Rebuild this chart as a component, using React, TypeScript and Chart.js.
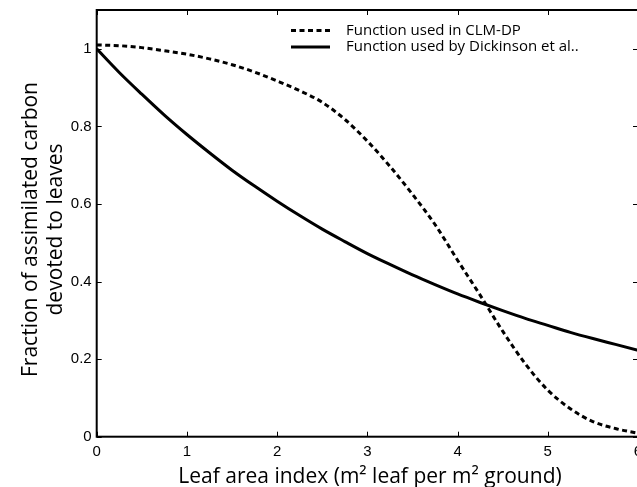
import React, { useEffect, useRef } from "react";
import { Chart, registerables } from "chart.js";

Chart.register(...registerables);

const LAI = [0, 0.25, 0.5, 0.75, 1, 1.25, 1.5, 1.75, 2, 2.25, 2.5, 2.75, 3, 3.25, 3.5, 3.75, 4, 4.25, 4.5, 4.75, 5, 5.25, 5.5, 5.75, 6];
const CLM_DP = [1.01, 1.008, 1.003, 0.995, 0.986, 0.974, 0.959, 0.94, 0.917, 0.892, 0.862, 0.818, 0.762, 0.697, 0.625, 0.547, 0.455, 0.365, 0.272, 0.188, 0.12, 0.072, 0.039, 0.021, 0.009];
const DICKINSON = [1.0, 0.939, 0.883, 0.829, 0.779, 0.732, 0.687, 0.646, 0.607, 0.57, 0.535, 0.503, 0.472, 0.444, 0.417, 0.392, 0.368, 0.346, 0.325, 0.305, 0.287, 0.269, 0.253, 0.238, 0.223];
const SERIES_LABELS = ["Function used in CLM-DP", "Function used by Dickinson et al.."];
const X_TICKS = [0, 1, 2, 3, 4, 5, 6];
const X_TICK_LABELS = ["0", "1", "2", "3", "4", "5", "6"];
const Y_TICKS = [0, 0.2, 0.4, 0.6, 0.8, 1];
const Y_TICK_LABELS = ["0", "0.2", "0.4", "0.6", "0.8", "1"];
const X_TITLE = "Leaf area index (m² leaf per m² ground)";
const Y_TITLE = ["Fraction of assimilated carbon", "devoted to leaves"];

const DASH = [5, 3.5];
const TITLE_FONT = "21px 'Open Sans'";

const framePlugin = {
  id: "frame",
  afterDatasetsDraw(chart: any) {
    const ctx = chart.ctx;
    const { left, right, top, bottom } = chart.chartArea;
    const xs = chart.scales.x;
    const ys = chart.scales.y;
    ctx.save();
    ctx.strokeStyle = "#000";
    // inward ticks on all four sides
    ctx.lineWidth = 1;
    const tl = 5;
    ctx.beginPath();
    X_TICKS.forEach((v) => {
      const px = Math.round(xs.getPixelForValue(v)) + 0.5;
      ctx.moveTo(px, bottom);
      ctx.lineTo(px, bottom - tl);
      ctx.moveTo(px, top);
      ctx.lineTo(px, top + tl);
    });
    Y_TICKS.forEach((v) => {
      const py = Math.round(ys.getPixelForValue(v)) + 0.5;
      ctx.moveTo(left, py);
      ctx.lineTo(left + tl, py);
      ctx.moveTo(right, py);
      ctx.lineTo(right - tl, py);
    });
    ctx.stroke();
    // box
    ctx.lineWidth = 2;
    ctx.strokeRect(left, top, right - left, bottom - top);

    // legend
    const items = chart.data.datasets;
    const lx0 = 291;
    const lx1 = 330;
    const tx = 346;
    const ly = [30.5, 47];
    ctx.font = "15px 'Open Sans'";
    ctx.textBaseline = "middle";
    ctx.textAlign = "left";
    ctx.fillStyle = "#000";
    items.forEach((ds: any, i: number) => {
      ctx.lineWidth = 3;
      ctx.setLineDash(ds.borderDash || []);
      ctx.beginPath();
      ctx.moveTo(lx0, ly[i]);
      ctx.lineTo(lx1, ly[i]);
      ctx.stroke();
      ctx.setLineDash([]);
      ctx.fillText(ds.label, tx, ly[i]);
    });

    // axis titles
    ctx.font = TITLE_FONT;
    ctx.textAlign = "center";
    ctx.textBaseline = "alphabetic";
    ctx.fillText(X_TITLE, 370, 483);
    ctx.save();
    ctx.translate(0, 229.5);
    ctx.rotate(-Math.PI / 2);
    ctx.fillText(Y_TITLE[0], 0, 36.5);
    ctx.fillText(Y_TITLE[1], 0, 61.5);
    ctx.restore();
    ctx.restore();
  },
};

export default function App() {
  const ref = useRef<HTMLCanvasElement | null>(null);
  useEffect(() => {
    if (!ref.current) return;
    const chart = new Chart(ref.current, {
      type: "line",
      data: {
        datasets: [
          {
            label: SERIES_LABELS[0],
            data: LAI.map((x, i) => ({ x, y: CLM_DP[i] })),
            borderColor: "#000",
            borderWidth: 3,
            borderDash: DASH,
            pointRadius: 0,
            cubicInterpolationMode: "monotone",
            fill: false,
          },
          {
            label: SERIES_LABELS[1],
            data: LAI.map((x, i) => ({ x, y: DICKINSON[i] })),
            borderColor: "#000",
            borderWidth: 3,
            pointRadius: 0,
            cubicInterpolationMode: "monotone",
            fill: false,
          },
        ],
      },
      options: {
        responsive: false,
        animation: false,
        devicePixelRatio: 1,
        layout: { autoPadding: false, padding: { top: 10, right: 8, left: 0, bottom: 0 } },
        plugins: { legend: { display: false }, tooltip: { enabled: false } },
        scales: {
          x: {
            type: "linear",
            min: 0,
            max: 6,
            grid: { display: false, drawTicks: false },
            border: { display: false },
            afterBuildTicks: (s: any) => {
              s.ticks = X_TICKS.map((v) => ({ value: v }));
            },
            afterFit: (s: any) => {
              s.height = 50.3;
              s.paddingLeft = 0;
              s.paddingRight = 0;
            },
            ticks: {
              padding: 6,
              maxRotation: 0,
              autoSkip: false,
              color: "#000",
              font: { family: "'Liberation Sans'", size: 15 },
              callback: (v: any) => X_TICK_LABELS[X_TICKS.indexOf(Number(v))] ?? "",
            },
            title: { display: false },
          },
          y: {
            type: "linear",
            min: 0,
            max: 1.1,
            grid: { display: false, drawTicks: false },
            border: { display: false },
            afterBuildTicks: (s: any) => {
              s.ticks = Y_TICKS.map((v) => ({ value: v }));
            },
            afterFit: (s: any) => {
              s.width = 96.7;
              s.paddingTop = 0;
              s.paddingBottom = 0;
            },
            ticks: {
              padding: 5,
              autoSkip: false,
              color: "#000",
              font: { family: "'Liberation Sans'", size: 15 },
              callback: (v: any) => {
                const i = Y_TICKS.findIndex((t) => Math.abs(t - Number(v)) < 1e-9);
                return i >= 0 ? Y_TICK_LABELS[i] : "";
              },
            },
            title: { display: false },
          },
        },
      },
      plugins: [framePlugin],
    } as any);
    return () => chart.destroy();
  }, []);
  return (
    <div style={{ position: "fixed", left: 0, top: 0, width: 637, height: 487, overflow: "hidden", background: "#fff" }}>
      <canvas ref={ref} width={646} height={487} style={{ display: "block", width: 646, height: 487 }} />
    </div>
  );
}
